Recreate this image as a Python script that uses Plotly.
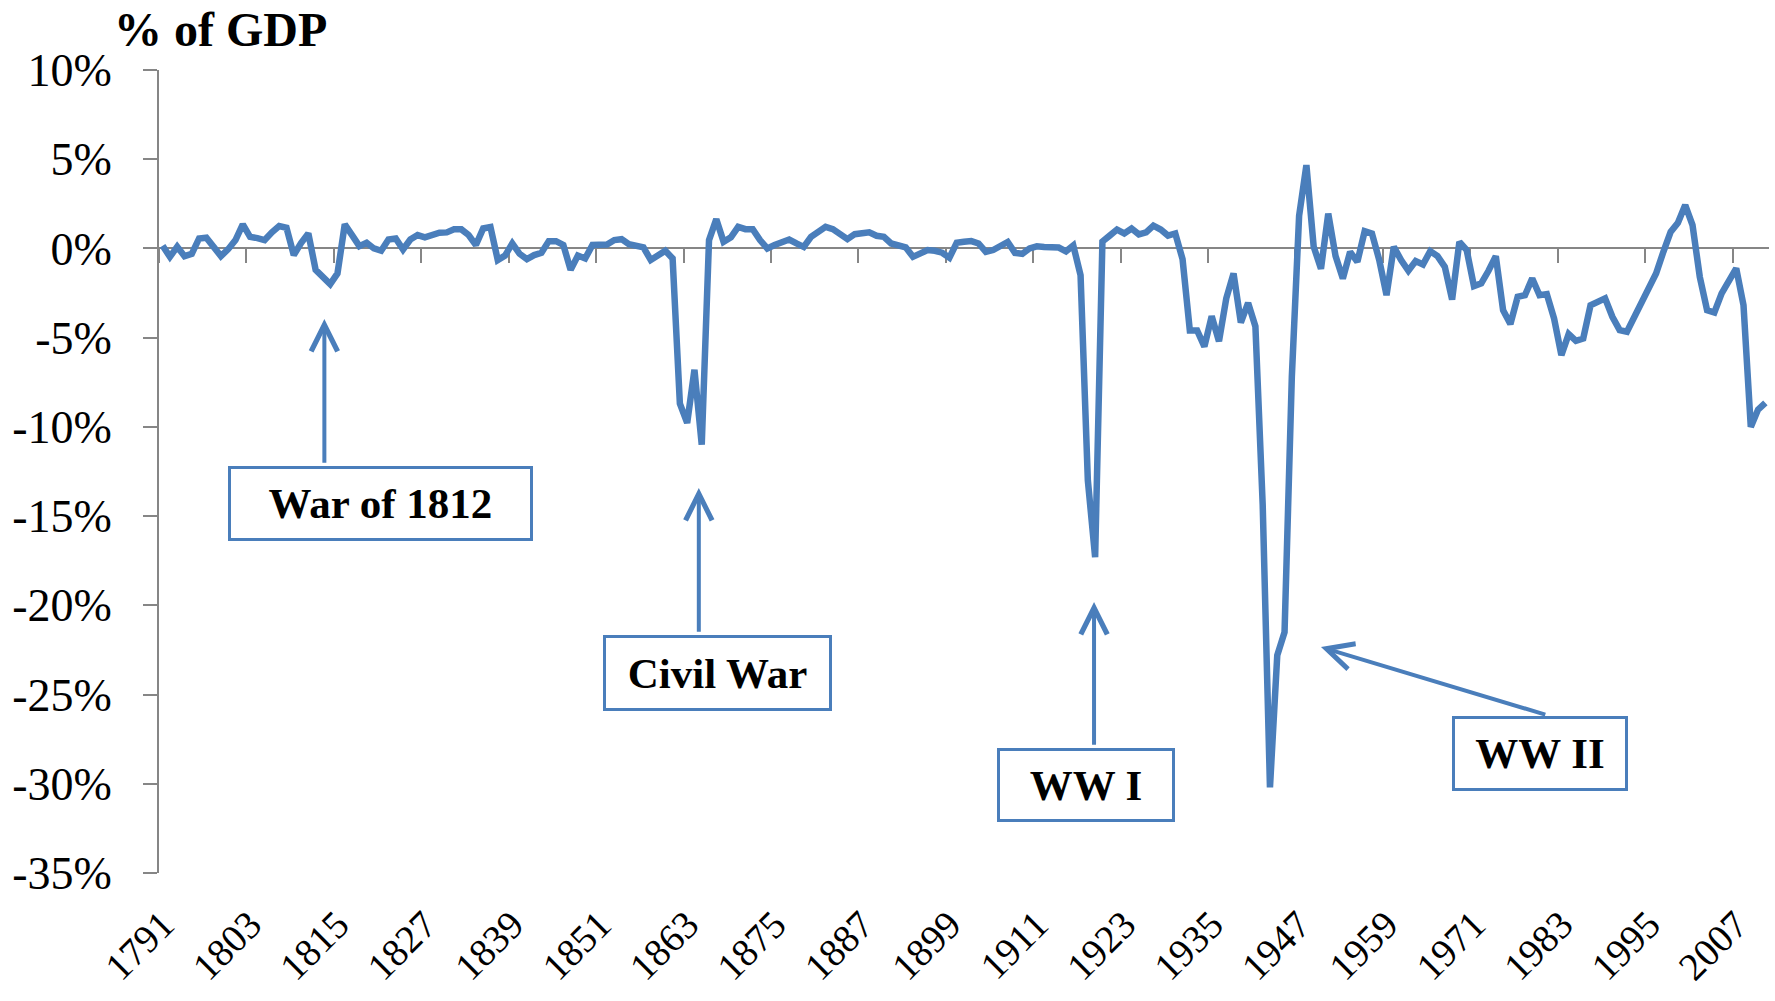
import plotly.graph_objects as go

# ---------------- data ----------------
years = list(range(1791, 2012))
balance_pct = [
    0.15, -0.47, 0.10, -0.43, -0.30, 0.56, 0.60, 0.10, -0.43, -0.04,      # 1791-1800
    0.47, 1.35, 0.65, 0.58, 0.47, 0.90, 1.25, 1.16, -0.37, 0.30,          # 1801-1810
    0.84, -1.20, -1.60, -2.00, -1.40, 1.35, 0.75, 0.13, 0.32, 0.00,       # 1811-1820
    -0.13, 0.50, 0.56, -0.06, 0.50, 0.75, 0.62, 0.77, 0.88, 0.90,         # 1821-1830
    1.07, 1.07, 0.75, 0.19, 1.12, 1.20, -0.65, -0.40, 0.28, -0.30,        # 1831-1840
    -0.60, -0.37, -0.24, 0.41, 0.41, 0.20, -1.20, -0.40, -0.56, 0.19,     # 1841-1850
    0.22, 0.22, 0.47, 0.52, 0.24, 0.19, 0.06, -0.65, -0.37, -0.13,        # 1851-1860
    -0.56, -8.70, -9.78, -6.80, -11.00, 0.47, 1.64, 0.37, 0.62, 1.21,     # 1861-1870
    1.08, 1.08, 0.47, 0.00, 0.19, 0.37, 0.50, 0.28, 0.09, 0.65,           # 1871-1880
    0.93, 1.21, 1.08, 0.84, 0.52, 0.80, 0.84, 0.90, 0.71, 0.65,           # 1881-1890
    0.28, 0.15, 0.06, -0.47, -0.24, -0.09, -0.13, -0.24, -0.52, 0.32,     # 1891-1900
    0.37, 0.41, 0.28, -0.19, -0.09, 0.15, 0.36, -0.25, -0.30, 0.00,       # 1901-1910
    0.12, 0.08, 0.06, 0.05, -0.16, 0.17, -1.50, -13.00, -17.30, 0.39,     # 1911-1920
    0.72, 1.06, 0.84, 1.12, 0.79, 0.90, 1.28, 1.06, 0.72, 0.84,           # 1921-1930
    -0.60, -4.60, -4.60, -5.50, -3.80, -5.20, -2.80, -1.40, -4.15, -3.05, # 1931-1940
    -4.37, -14.35, -30.20, -22.80, -21.50, -7.20, 1.83, 4.67, 0.10, -1.14,# 1941-1950
    1.95, -0.42, -1.69, -0.19, -0.75, 0.97, 0.84, -0.65, -2.62, 0.09,     # 1951-1960
    -0.65, -1.25, -0.71, -0.90, -0.15, -0.43, -1.03, -2.86, 0.37, -0.09,  # 1961-1970
    -2.11, -1.96, -1.25, -0.43, -3.46, -4.24, -2.71, -2.62, -1.68, -2.62, # 1971-1980
    -2.56, -3.93, -5.98, -4.80, -5.18, -5.05, -3.18, -2.99, -2.80, -3.83, # 1981-1990
    -4.58, -4.67, -3.83, -2.90, -2.15, -1.40, -0.19, 0.93, 1.44, 2.43,    # 1991-2000
    1.31, -1.59, -3.46, -3.59, -2.52, -1.78, -1.12, -3.18, -10.00, -9.03, # 2001-2010
    -8.65,                                                                # 2011
]

x_label_years = [1791, 1803, 1815, 1827, 1839, 1851, 1863, 1875, 1887, 1899,
                 1911, 1923, 1935, 1947, 1959, 1971, 1983, 1995, 2007]
x_labels = ["1791", "1803", "1815", "1827", "1839", "1851", "1863", "1875", "1887", "1899",
            "1911", "1923", "1935", "1947", "1959", "1971", "1983", "1995", "2007"]
y_tick_vals = [10, 5, 0, -5, -10, -15, -20, -25, -30, -35]
y_tick_labels = ["10%", "5%", "0%", "-5%", "-10%", "-15%", "-20%", "-25%", "-30%", "-35%"]

event_names = ["War of 1812", "Civil War", "WW I", "WW II"]

# ------------- annotation layout (positions in data units) -------------
arrow_head = [(1813.2, -3.96), (1864.6, -13.43), (1918.85, -19.82), (1950.0, -22.34)]
arrow_tail = [(1813.2, -12.09), (1864.6, -21.56), (1918.85, -27.89), (1981.0, -26.15)]
box_center = [(1820.9, -14.27), (1867.2, -23.77), (1917.7, -30.05), (1980.0, -28.29)]
box_size = [(302, 72), (226, 73), (175, 71), (173, 72)]

BLUE = "#4A7EBB"
GRAY = "#868686"
SERIF = "Liberation Serif"

x_range = [years[0] - 0.5, years[-1] + 0.5]
y_range = [-35, 10]

fig = go.Figure()
fig.add_trace(go.Scatter(
    x=years, y=balance_pct, mode="lines", xaxis="x", yaxis="y",
    line=dict(color=BLUE, width=6.5), showlegend=False, hoverinfo="skip",
))
# invisible companion trace that keeps the label axis alive
fig.add_trace(go.Scatter(
    x=years, y=balance_pct, mode="lines", xaxis="x2", yaxis="y",
    line=dict(color="rgba(0,0,0,0)", width=1), showlegend=False, hoverinfo="skip",
))

boundary_ticks = [y - 0.5 for y in x_label_years]

fig.update_layout(
    width=1775, height=1001,
    margin=dict(l=159, r=6, t=70, b=128, autoexpand=False),
    paper_bgcolor="white", plot_bgcolor="white",
    xaxis=dict(
        range=x_range, anchor="free", position=(0 - y_range[0]) / (y_range[1] - y_range[0]),
        showgrid=False, zeroline=False, showline=True, linecolor=GRAY, linewidth=2,
        tickmode="array", tickvals=boundary_ticks, showticklabels=False, automargin=False,
        ticks="outside", ticklen=14, tickwidth=2, tickcolor=GRAY, layer="below traces",
    ),
    xaxis2=dict(
        range=x_range, overlaying="x", anchor="y", side="bottom", automargin=False,
        showgrid=False, zeroline=False, showline=False, ticks="",
        tickmode="array", tickvals=x_label_years, ticktext=x_labels,
        tickangle=-45, tickfont=dict(family=SERIF, size=39, color="black"),
        ticklabelstandoff=20,
    ),
    yaxis=dict(
        range=y_range, anchor="x", showgrid=False, zeroline=False, automargin=False,
        showline=True, linecolor=GRAY, linewidth=2,
        tickmode="array", tickvals=y_tick_vals, ticktext=y_tick_labels,
        ticks="outside", ticklen=14, tickwidth=2, tickcolor=GRAY,
        tickfont=dict(family=SERIF, size=46, color="black"),
        ticklabelstandoff=22,
    ),
)

fig.add_annotation(
    xref="paper", yref="paper", x=-0.029, y=1.05, xanchor="left", yanchor="middle",
    text="<b>% of GDP</b>", showarrow=False,
    font=dict(family=SERIF, size=48, color="black"),
)

for name, head, tail, center, size in zip(event_names, arrow_head, arrow_tail, box_center, box_size):
    fig.add_annotation(
        x=head[0], y=head[1], ax=tail[0], ay=tail[1], xref="x", yref="y",
        axref="x", ayref="y", text="", showarrow=True,
        arrowhead=5, arrowsize=1.3, arrowwidth=4, arrowcolor=BLUE,
    )
    fig.add_annotation(
        x=center[0], y=center[1], xref="x", yref="y", xanchor="center", yanchor="middle",
        text="<b>" + name + "</b>", showarrow=False,
        font=dict(family=SERIF, size=43, color="black"),
        bgcolor="white", bordercolor=BLUE, borderwidth=3, borderpad=0,
        width=size[0] - 3, height=size[1] - 3,
    )

fig.write_html("out.html", config={"displayModeBar": False},
               post_script="document.body.style.margin='0';")
